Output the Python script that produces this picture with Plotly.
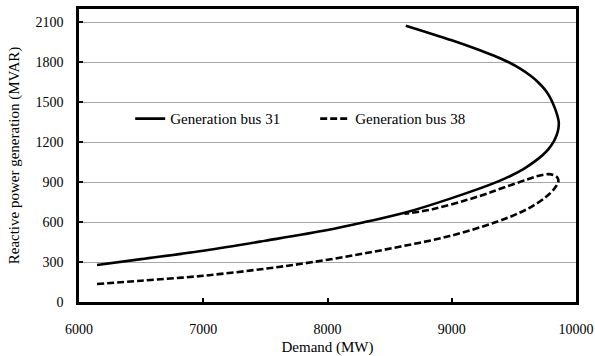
import plotly.graph_objects as go

# Generation bus 31 (solid) — demand (MW) vs reactive power (MVAR)
bus31_demand = [6145, 6500, 7000, 7500, 8000, 8300, 8620, 9000, 9360, 9480, 9580, 9660,
                9728, 9780, 9818, 9843, 9858, 9861, 9850, 9832, 9810, 9783, 9745, 9695,
                9632, 9554, 9459, 9364, 9227, 9000, 8630]
bus31_q = [278, 322, 385, 460, 540, 600, 670, 780, 900, 950, 1000, 1050,
           1100, 1150, 1200, 1250, 1300, 1352, 1400, 1450, 1500, 1550, 1600, 1650,
           1700, 1750, 1800, 1840, 1890, 1965, 2075]

# Generation bus 38 (dashed)
bus38_demand = [6145, 6500, 7000, 7500, 7777, 8178, 8580, 8982, 9357, 9545, 9650, 9760,
                9825, 9858, 9850, 9820, 9780, 9700, 9600, 9384, 9304, 9117, 8846, 8620]
bus38_q = [135, 160, 197, 250, 285, 345, 415, 495, 600, 670, 720, 790,
           850, 905, 935, 953, 960, 948, 918, 848, 820, 765, 697, 662]

x_ticks = [6000, 7000, 8000, 9000, 10000]
y_ticks = [0, 300, 600, 900, 1200, 1500, 1800, 2100]

FONT = "Liberation Serif"

fig = go.Figure()
fig.add_trace(go.Scatter(x=bus31_demand, y=bus31_q, mode="lines", name="Generation bus 31",
                         line=dict(color="black", width=2.6, shape="spline", smoothing=1.0)))
fig.add_trace(go.Scatter(x=bus38_demand, y=bus38_q, mode="lines", name="Generation bus 38",
                         line=dict(color="black", width=2.6, dash="7px,3px", shape="spline", smoothing=1.0)))

fig.update_layout(
    width=595, height=356,
    margin=dict(l=79, r=19, t=9, b=54),
    paper_bgcolor="white", plot_bgcolor="white",
    font=dict(family=FONT, size=14, color="black"),
    legend=dict(orientation="h", x=0.103, y=0.625, xanchor="left", yanchor="middle",
                bgcolor="rgba(0,0,0,0)", font=dict(size=15), entrywidth=140, entrywidthmode="pixels"),
    showlegend=True,
)
fig.update_xaxes(
    range=[6000, 10000], tickvals=x_ticks, ticktext=[str(v) for v in x_ticks],
    showgrid=False, zeroline=False, automargin=False,
    showline=True, linecolor="black", linewidth=2.6, mirror=True,
    ticks="inside", ticklen=4, tickwidth=2, tickcolor="black",
    ticklabelstandoff=12,
    title=dict(text="Demand (MW)", font=dict(size=15), standoff=6),
)
fig.update_yaxes(
    range=[0, 2200], tickvals=y_ticks, ticktext=[str(v) for v in y_ticks],
    showgrid=True, gridcolor="#a6a6a6", gridwidth=1, zeroline=False, automargin=False,
    showline=True, linecolor="black", linewidth=2.6, mirror=True,
    ticks="inside", ticklen=4, tickwidth=2, tickcolor="black",
    ticklabelstandoff=10,
    title=dict(text="Reactive power generation (MVAR)", font=dict(size=15), standoff=13),
)

fig.write_html("out.html")
